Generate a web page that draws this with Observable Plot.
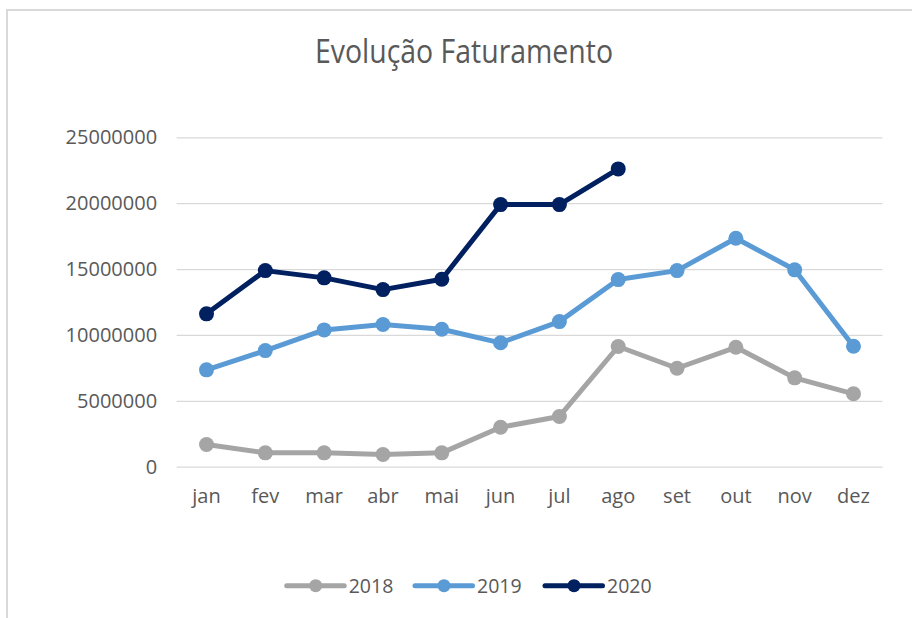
<!DOCTYPE html>
<html>
<head>
<meta charset="utf-8">
<script src="https://cdn.jsdelivr.net/npm/d3@7"></script>
<script src="https://cdn.jsdelivr.net/npm/@observablehq/plot@0.6"></script>
<style>
  html, body { margin: 0; padding: 0; background: #fff; }
  #wrap { position: relative; width: 912px; height: 618px; overflow: hidden; background: #fff; font-family: "Open Sans", sans-serif; }
  #frame { position: absolute; left: 6px; top: 9px; width: 1000px; height: 700px; border-left: 2px solid #d9d9d9; border-top: 2px solid #d9d9d9; }
  #chart { position: absolute; left: 0; top: 0; }
  #title { position: absolute; left: 0; top: 0; }
  #legend { position: absolute; left: 0; top: 0; }
</style>
</head>
<body>
<div id="wrap">
  <div id="frame"></div>
  <div id="chart"></div>
  <svg id="title" width="912" height="90"></svg>
  <svg id="legend" width="912" height="618" style="pointer-events:none"></svg>
</div>
<script>
const titleText = "Evolução Faturamento";
const months = ["jan","fev","mar","abr","mai","jun","jul","ago","set","out","nov","dez"];
const years = ["2018","2019","2020"];
const colors = ["#A5A5A5","#5B9BD5","#002060"];
const v2018 = [1720000,1090000,1090000,960000,1090000,3030000,3850000,9160000,7510000,9100000,6780000,5570000];
const v2019 = [7390000,8850000,10420000,10830000,10470000,9440000,11050000,14240000,14920000,17380000,14980000,9180000];
const v2020 = [11640000,14920000,14370000,13480000,14270000,19930000,19930000,22640000];
const yTicks = [0,5000000,10000000,15000000,20000000,25000000];

const series = [v2018, v2019, v2020];
const rows = [];
series.forEach((vals, i) => vals.forEach((v, j) => rows.push({year: years[i], month: months[j], value: v})));

const chart = Plot.plot({
  width: 912,
  height: 540,
  marginTop: 137.3,
  marginBottom: 73.3,
  marginLeft: 176.6,
  marginRight: 29.6,
  style: {fontFamily: "'Open Sans', sans-serif", fontSize: "20px", color: "#595959", background: "transparent", overflow: "visible"},
  x: {type: "point", domain: months, padding: 0.5, round: false},
  y: {domain: [0, 25000000]},
  color: {domain: years, range: colors},
  marks: [
    Plot.gridY(yTicks, {stroke: "#d9d9d9", strokeOpacity: 1, strokeWidth: 1.3}),
    Plot.axisY(yTicks, {tickSize: 0, tickPadding: 20, tickFormat: d3.format("d"), label: null, fontSize: 20}),
    Plot.axisX({tickSize: 0, tickPadding: 22, label: null, fontSize: 20}),
    Plot.line(rows, {x: "month", y: "value", z: "year", stroke: "year", strokeWidth: 5, strokeLinejoin: "round", strokeLinecap: "round"}),
    Plot.dot(rows, {x: "month", y: "value", fill: "year", r: 7.5, stroke: "none"})
  ]
});
document.getElementById("chart").appendChild(chart);

// Title
const tsvg = d3.select("#title");
tsvg.append("text")
  .attr("x", 464).attr("y", 63.3)
  .attr("text-anchor", "middle")
  .attr("font-family", "'Open Sans', sans-serif")
  .attr("font-size", 32)
  .attr("fill", "#595959")
  .attr("textLength", 298)
  .attr("lengthAdjust", "spacingAndGlyphs")
  .text(titleText);

// Legend
const lsvg = d3.select("#legend");
const legendStarts = [286.7, 415, 545];
years.forEach((y, i) => {
  const x0 = legendStarts[i];
  const g = lsvg.append("g");
  g.append("line").attr("x1", x0).attr("x2", x0 + 57.5).attr("y1", 585.7).attr("y2", 585.7)
    .attr("stroke", colors[i]).attr("stroke-width", 5).attr("stroke-linecap", "round");
  g.append("circle").attr("cx", x0 + 29).attr("cy", 585.7).attr("r", 6.5).attr("fill", colors[i]);
  g.append("text").attr("x", x0 + 62).attr("y", 593.3)
    .attr("font-family", "'Open Sans', sans-serif").attr("font-size", 19.5).attr("fill", "#595959")
    .text(y);
});
</script>
</body>
</html>
